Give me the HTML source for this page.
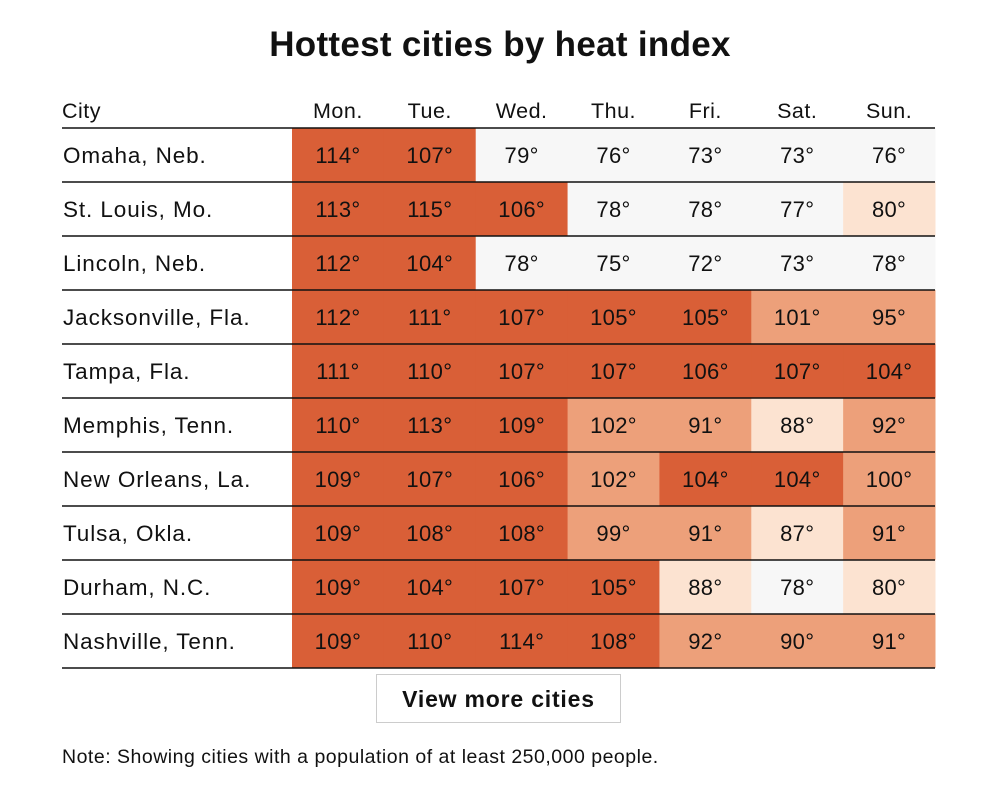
<!DOCTYPE html>
<html><head><meta charset="utf-8"><style>
body{margin:0;width:1000px;height:787px;background:#fff;font-family:"Liberation Sans",sans-serif;color:#111;position:relative;overflow:hidden}
#title{position:absolute;left:0;width:1000px;top:25px;text-align:center;font-size:35px;font-weight:bold;letter-spacing:0.3px}
svg{position:absolute;left:0;top:0}
#btn{position:absolute;left:376px;top:674px;width:245px;height:49px;border:1px solid #ccc;box-sizing:border-box;text-align:center;line-height:48px;font-weight:bold;font-size:23px;letter-spacing:0.8px;background:#fff}
#note{position:absolute;left:62px;top:746px;font-size:19.5px;letter-spacing:0.5px}
</style></head><body>
<div id="title">Hottest cities by heat index</div>
<svg id="chart" width="1000" height="787"></svg>
<div id="btn">View more cities</div>
<div id="note">Note: Showing cities with a population of at least 250,000 people.</div>
<script>
const cities=["Omaha, Neb.","St. Louis, Mo.","Lincoln, Neb.","Jacksonville, Fla.","Tampa, Fla.","Memphis, Tenn.","New Orleans, La.","Tulsa, Okla.","Durham, N.C.","Nashville, Tenn."];
const days=["Mon.","Tue.","Wed.","Thu.","Fri.","Sat.","Sun."];
const temps=[
[114,107,79,76,73,73,76],
[113,115,106,78,78,77,80],
[112,104,78,75,72,73,78],
[112,111,107,105,105,101,95],
[111,110,107,107,106,107,104],
[110,113,109,102,91,88,92],
[109,107,106,102,104,104,100],
[109,108,108,99,91,87,91],
[109,104,107,105,88,78,80],
[109,110,114,108,92,90,91]];
const NS="http://www.w3.org/2000/svg";
const svg=document.getElementById('chart');
const x0=292,colW=(935-292)/7,y0=128,rowH=54;
const colX=i=>x0+i*colW, rowY=j=>y0+j*rowH;
function color(t){if(t>=103)return"#d95f37";if(t>=89)return"#eda07a";if(t>=80)return"#fce3d1";return"#f7f7f7";}
function mk(tag,attrs){const e=document.createElementNS(NS,tag);for(const k in attrs)e.setAttribute(k,attrs[k]);svg.appendChild(e);return e;}
function txt(s,x,y,anchor,size,ls){const t=mk('text',{x:x,y:y,'text-anchor':anchor,'font-size':size,'letter-spacing':ls,fill:'#111','font-family':'Liberation Sans, sans-serif'});t.textContent=s;return t;}
let h=txt("City",62,118,'start',21.5,0.5);


days.forEach((d,i)=>{const t=txt(d,colX(i)+colW/2,118,'middle',21.5,0.5);

});
temps.forEach((row,j)=>{
 row.forEach((v,i)=>{
  const r=mk('rect',{x:colX(i),y:rowY(j),width:colW+0.5,height:rowH,fill:color(v)});
  
  
  const t=txt(v+"°",colX(i)+colW/2,rowY(j)+35,'middle',22,0.3);
  
  
 });
 const c=txt(cities[j],63,rowY(j)+35,'start',22.5,0.9);
 
 
});
for(let j=0;j<=cities.length;j++){
 const l=mk('line',{x1:62,x2:935,y1:rowY(j),y2:rowY(j),stroke:'#111','stroke-width':1.6});
 
 
}
</script>
</body></html>
